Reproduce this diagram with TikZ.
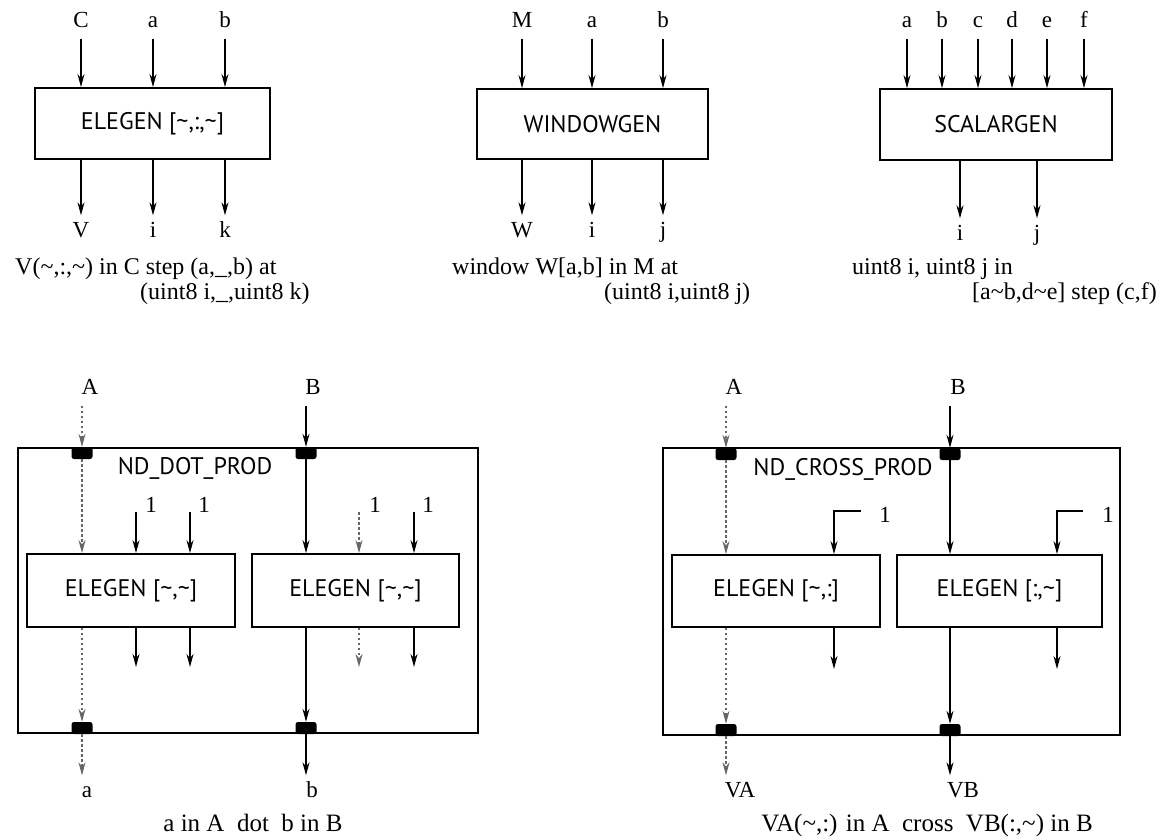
\documentclass[tikz,border=0pt]{standalone}
\usepackage{fontspec}
\setmainfont{Liberation Serif}
\newfontfamily\boxfont{PT Sans}
\usetikzlibrary{arrows.meta}

\tikzset{
  arr/.style={line width=1.3pt, -{Stealth[length=13pt,width=7pt]}},
  faint/.style={arr, black!60, dash pattern=on 2.5pt off 2.5pt},
  genbox/.style={draw, line width=1.8pt, inner sep=0pt, font=\boxfont\fontsize{24}{28}\selectfont},
  wrapbox/.style={draw, line width=2.6pt, inner sep=0pt},
  wrapname/.style={font=\boxfont\fontsize{24}{28}\selectfont},
  port/.style={fill=black, rounded corners=2.5pt, minimum width=21pt, minimum height=12pt, inner sep=0pt},
  pin/.style={inner sep=7pt, text height=15pt, text depth=4pt, font=\fontsize{23}{27}\selectfont},
  capline/.style={anchor=base west, inner sep=0pt, font=\fontsize{24}{28}\selectfont},
  capmid/.style={anchor=base, inner sep=0pt, font=\fontsize{25}{29}\selectfont},
}

\begin{document}
\begin{tikzpicture}[x=1pt, y=-1pt]
\useasboundingbox (0,0) rectangle (1163,840);

% ELEGEN
\node[genbox, minimum width=235pt, minimum height=71pt] (elegen) at (152.5,123.5) {ELEGEN [\textasciitilde,:,\textasciitilde]};
\node[pin] (tlC) at (81,22) {C};
\node[pin] (tla) at (153,22) {a};
\node[pin] (tlb) at (225,22) {b};
\node[pin] (tlV) at (81,232) {V};
\node[pin] (tli) at (153,232) {i};
\node[pin] (tlk) at (225,232) {k};
\draw[arr] (tlC) -- (tlC |- elegen.north);
\draw[arr] (tla) -- (tla |- elegen.north);
\draw[arr] (tlb) -- (tlb |- elegen.north);
\draw[arr] (tlV |- elegen.south) -- (tlV);
\draw[arr] (tli |- elegen.south) -- (tli);
\draw[arr] (tlk |- elegen.south) -- (tlk);
\node[capline] (tlcap1) at (15,274) {V(\textasciitilde,:,\textasciitilde) in C step (a,\_,b) at};
\node[capline] (tlcap2) at (140,299) {(uint8 i,\_,uint8 k)};

% WINDOWGEN
\node[genbox, minimum width=231pt, minimum height=70pt] (windowgen) at (592.5,124) {WINDOWGEN};
\node[pin] (wgM) at (522,22) {M};
\node[pin] (wga) at (592,22) {a};
\node[pin] (wgb) at (663,22) {b};
\node[pin] (wgW) at (522,232) {W};
\node[pin] (wgi) at (592,232) {i};
\node[pin] (wgj) at (663,232) {j};
\draw[arr] (wgM) -- (wgM |- windowgen.north);
\draw[arr] (wga) -- (wga |- windowgen.north);
\draw[arr] (wgb) -- (wgb |- windowgen.north);
\draw[arr] (wgW |- windowgen.south) -- (wgW);
\draw[arr] (wgi |- windowgen.south) -- (wgi);
\draw[arr] (wgj |- windowgen.south) -- (wgj);
\node[capline] (wgcap1) at (452,274) {window W[a,b] in M at};
\node[capline] (wgcap2) at (604,299) {(uint8 i,uint8 j)};

% SCALARGEN
\node[genbox, minimum width=232pt, minimum height=71pt] (scalargen) at (996,124.5) {SCALARGEN};
\node[pin] (sga) at (907,22) {a};
\node[pin] (sgb) at (942,22) {b};
\node[pin] (sgc) at (978,22) {c};
\node[pin] (sgd) at (1012,22) {d};
\node[pin] (sge) at (1047,22) {e};
\node[pin] (sgf) at (1084,22) {f};
\node[pin] (sgi) at (960,235) {i};
\node[pin] (sgj) at (1037,235) {j};
\draw[arr] (sga) -- (sga |- scalargen.north);
\draw[arr] (sgb) -- (sgb |- scalargen.north);
\draw[arr] (sgc) -- (sgc |- scalargen.north);
\draw[arr] (sgd) -- (sgd |- scalargen.north);
\draw[arr] (sge) -- (sge |- scalargen.north);
\draw[arr] (sgf) -- (sgf |- scalargen.north);
\draw[arr] (sgi |- scalargen.south) -- (sgi);
\draw[arr] (sgj |- scalargen.south) -- (sgj);
\node[capline] (sgcap1) at (852,274) {uint8 i, uint8 j in};
\node[capline] (sgcap2) at (972,299) {[a\textasciitilde b,d\textasciitilde e] step (c,f)};

% ND_DOT_PROD
\node[wrapbox, minimum width=460pt, minimum height=285pt] (dotprod) at (248,590.5) {};
\node[wrapname] (dotname) at (195,468) {ND\_DOT\_PROD};
\node[port] (dpA1) at (82,453) {};
\node[port] (dpB1) at (306,453) {};
\node[port] (dpA2) at (82,728) {};
\node[port] (dpB2) at (306,728) {};
\node[genbox, minimum width=208pt, minimum height=73pt] (dpL) at (131,590.5) {ELEGEN [\textasciitilde,\textasciitilde]};
\node[genbox, minimum width=207pt, minimum height=73pt] (dpR) at (355.5,590.5) {ELEGEN [\textasciitilde,\textasciitilde]};
\node[pin] (dpA) at (90,389) {A};
\node[pin] (dpB) at (313,389) {B};
\node[pin] (dpa) at (87,792) {a};
\node[pin] (dpb) at (312,792) {b};
\draw[faint] (dpA.south -| dpA1) -- (dpA1.north);
\draw[faint] (dpA1.south) -- (dpA1 |- dpL.north);
\draw[faint] (dpA1 |- dpL.south) -- (dpA2.north);
\draw[faint] (dpA2.south) -- (dpA2.south |- dpa.north);
\draw[arr] (dpB.south -| dpB1) -- (dpB1.north);
\draw[arr] (dpB1.south) -- (dpB1 |- dpR.north);
\draw[arr] (dpB1 |- dpR.south) -- (dpB2.north);
\draw[arr] (dpB2.south) -- (dpB2.south |- dpb.north);
\node[pin, inner sep=2pt] (dp1) at (151,507) {1};
\node[pin, inner sep=2pt] (dp2) at (204,507) {1};
\node[pin, inner sep=2pt] (dp3) at (375,507) {1};
\node[pin, inner sep=2pt] (dp4) at (428,507) {1};
\coordinate (dpi1) at (136,512);
\coordinate (dpi2) at (190,512);
\coordinate (dpi3) at (359,512);
\coordinate (dpi4) at (414,512);
\draw[arr] (dpi1) -- (dpi1 |- dpL.north);
\draw[arr] (dpi2) -- (dpi2 |- dpL.north);
\draw[faint] (dpi3) -- (dpi3 |- dpR.north);
\draw[arr] (dpi4) -- (dpi4 |- dpR.north);
\coordinate (dpo1) at (136,667);
\coordinate (dpo2) at (190,667);
\coordinate (dpo3) at (359,667);
\coordinate (dpo4) at (414,667);
\draw[arr] (dpo1 |- dpL.south) -- (dpo1);
\draw[arr] (dpo2 |- dpL.south) -- (dpo2);
\draw[faint] (dpo3 |- dpR.south) -- (dpo3);
\draw[arr] (dpo4 |- dpR.south) -- (dpo4);
\node[capmid] (dpcap) at (253,831) {a in A\ \ dot\ \ b in B};

% ND_CROSS_PROD
\node[wrapbox, minimum width=457pt, minimum height=287pt] (crossprod) at (891.5,591.5) {};
\node[wrapname] (crossname) at (843,469) {ND\_CROSS\_PROD};
\node[port] (cpA1) at (726,454) {};
\node[port] (cpB1) at (950,454) {};
\node[port] (cpA2) at (726,730) {};
\node[port] (cpB2) at (950,730) {};
\node[genbox, minimum width=208pt, minimum height=72pt] (cpL) at (776,591) {ELEGEN [\textasciitilde,:]};
\node[genbox, minimum width=205pt, minimum height=72pt] (cpR) at (999.5,591) {ELEGEN [:,\textasciitilde]};
\node[pin] (cpA) at (734,389) {A};
\node[pin] (cpB) at (958,389) {B};
\node[pin] (cpVA) at (740,792) {VA};
\node[pin] (cpVB) at (963,792) {VB};
\draw[faint] (cpA.south -| cpA1) -- (cpA1.north);
\draw[faint] (cpA1.south) -- (cpA1 |- cpL.north);
\draw[faint] (cpA1 |- cpL.south) -- (cpA2.north);
\draw[faint] (cpA2.south) -- (cpA2.south |- cpVA.north);
\draw[arr] (cpB.south -| cpB1) -- (cpB1.north);
\draw[arr] (cpB1.south) -- (cpB1 |- cpR.north);
\draw[arr] (cpB1 |- cpR.south) -- (cpB2.north);
\draw[arr] (cpB2.south) -- (cpB2.south |- cpVB.north);
\node[pin, inner sep=2pt] (cp1) at (885,517) {1};
\node[pin, inner sep=2pt] (cp2) at (1108,517) {1};
\coordinate (cpk1) at (861,511);
\coordinate (cpk1b) at (834,511);
\coordinate (cpk2) at (1083,511);
\coordinate (cpk2b) at (1057,511);
\draw[arr] (cpk1) -- (cpk1b) -- (cpk1b |- cpL.north);
\draw[arr] (cpk2) -- (cpk2b) -- (cpk2b |- cpR.north);
\coordinate (cpo1) at (834,669);
\coordinate (cpo2) at (1057,669);
\draw[arr] (cpo1 |- cpL.south) -- (cpo1);
\draw[arr] (cpo2 |- cpR.south) -- (cpo2);
\node[capmid] (cpcap) at (927,831) {VA(\textasciitilde,:) in A\ \ cross\ \ VB(:,\textasciitilde) in B};
\end{tikzpicture}
\end{document}
